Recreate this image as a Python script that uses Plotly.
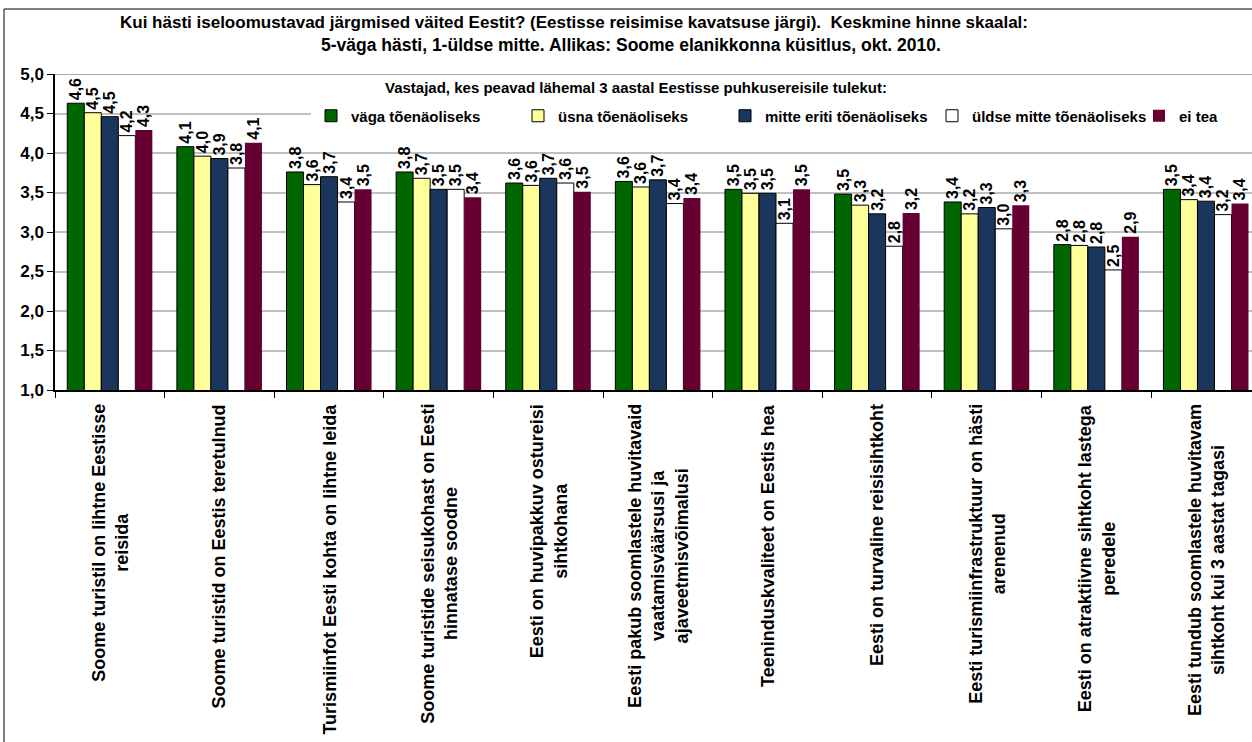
import plotly.graph_objects as go

categories = [
    "Soome turistil on lihtne Eestisse<br>reisida",
    "Soome turistid on Eestis teretulnud",
    "Turismiinfot Eesti kohta on lihtne leida",
    "Soome turistide seisukohast on Eesti<br>hinnatase soodne",
    "Eesti on huvipakkuv ostureisi<br>sihtkohana",
    "Eesti pakub soomlastele huvitavaid<br>vaatamisväärsusi ja<br>ajaveetmisvõimalusi",
    "Teeninduskvaliteet on Eestis hea",
    "Eesti on turvaline reisisihtkoht",
    "Eesti turismiinfrastruktuur on hästi<br>arenenud",
    "Eesti on atraktiivne sihtkoht lastega<br>peredele",
    "Eesti tundub soomlastele huvitavam<br>sihtkoht kui 3 aastat tagasi",
]

series_names = [
    "väga tõenäoliseks",
    "üsna tõenäoliseks",
    "mitte eriti tõenäoliseks",
    "üldse mitte tõenäoliseks",
    "ei tea",
]

vaga_toenaoliseks = [4.63, 4.08, 3.76, 3.76, 3.62, 3.64, 3.54, 3.48, 3.38, 2.84, 3.54]
usna_toenaoliseks = [4.51, 3.96, 3.60, 3.68, 3.59, 3.57, 3.49, 3.34, 3.23, 2.83, 3.41]
mitte_eriti = [4.46, 3.93, 3.70, 3.54, 3.68, 3.66, 3.49, 3.23, 3.31, 2.81, 3.39]
uldse_mitte = [4.22, 3.81, 3.38, 3.54, 3.62, 3.36, 3.11, 2.82, 3.04, 2.52, 3.22]
ei_tea = [4.29, 4.13, 3.54, 3.44, 3.51, 3.43, 3.54, 3.24, 3.34, 2.94, 3.36]

series_values = [vaga_toenaoliseks, usna_toenaoliseks, mitte_eriti, uldse_mitte, ei_tea]
colors = ["#006600", "#FFFF99", "#1B365D", "#FFFFFF", "#660033"]
line_widths = [1, 1, 1, 1, 0]

y_ticks = [1.0, 1.5, 2.0, 2.5, 3.0, 3.5, 4.0, 4.5, 5.0]

title_line1 = ("Kui hästi iseloomustavad järgmised väited Eestit? (Eestisse reisimise kavatsuse järgi).  "
               "Keskmine hinne skaalal:")
title_line2 = "5-väga hästi, 1-üldse mitte. Allikas: Soome elanikkonna küsitlus, okt. 2010."
legend_title = "Vastajad, kes peavad lähemal 3 aastal Eestisse puhkusereisile tulekut:"

FONT = "Liberation Sans, Arial, sans-serif"

fig = go.Figure()
for name, vals, col, lw in zip(series_names, series_values, colors, line_widths):
    fig.add_trace(go.Bar(
        name=name,
        x=categories,
        y=vals,
        marker=dict(color=col, line=dict(color="#000000", width=lw)),
        texttemplate="%{y:.1f}",
        textposition="outside",
        textangle=-90,
        constraintext="none",
        cliponaxis=False,
        textfont=dict(family=FONT, size=16, color="#000000", weight="bold"),
    ))

L, R, T, B = 55, 0, 74, 352
W, H = 1252, 742
plot_w = W - L - R
plot_h = H - T - B

def px_x(px):
    return (px - L) / plot_w

def px_y(py):
    return (H - B - py) / plot_h

annotations = []
for c in categories:
    annotations.append(dict(
        x=c, xref="x", y=0, yref="paper", yanchor="top", xanchor="center",
        yshift=-12, text=c, textangle=-90, showarrow=False, align="center",
        font=dict(family=FONT, size=18, color="#000000", weight="bold"),
    ))
annotations.append(dict(
    x=px_x(383), xref="paper", y=px_y(87), yref="paper", xanchor="left", yanchor="middle",
    text=legend_title, showarrow=False,
    font=dict(family=FONT, size=15, color="#000000", weight="bold"),
))
annotations.append(dict(
    x=px_x(574), xref="paper", y=px_y(22), yref="paper", xanchor="center", yanchor="middle",
    text=title_line1, showarrow=False,
    font=dict(family=FONT, size=17, color="#000000", weight="bold"),
))
annotations.append(dict(
    x=px_x(631), xref="paper", y=px_y(45), yref="paper", xanchor="center", yanchor="middle",
    text=title_line2, showarrow=False,
    font=dict(family=FONT, size=17.5, color="#000000", weight="bold"),
))

fig.update_layout(
    width=W, height=H,
    margin=dict(l=L, r=R, t=T, b=B, autoexpand=False),
    paper_bgcolor="#FFFFFF", plot_bgcolor="#FFFFFF",
    separators=", ",
    font=dict(family=FONT, size=15, color="#000000", weight="bold"),
    barmode="group", bargap=0.224, bargroupgap=0,
    showlegend=True,
    legend=dict(orientation="h", x=px_x(311), xanchor="left", y=px_y(116), yanchor="middle",
                bgcolor="rgba(255,255,255,1)", entrywidth=162, entrywidthmode="pixels",
                font=dict(family=FONT, size=15, color="#000000", weight="bold"),
                itemclick=False, itemdoubleclick=False, traceorder="normal"),
    xaxis=dict(type="category", range=[-0.5, 10.42], showticklabels=False,
               showline=True, linecolor="#000000", linewidth=2,
               ticks="outside", tickson="boundaries", ticklen=6, tickcolor="#000000", tickwidth=1,
               showgrid=False, zeroline=False, fixedrange=True),
    yaxis=dict(range=[1.0, 5.0], tickvals=y_ticks, tickformat=".1f",
               showline=True, linecolor="#000000", linewidth=1.5,
               ticks="outside", ticklen=6, tickcolor="#000000",
               showgrid=True, gridcolor="#C0C0C0", gridwidth=1.5, zeroline=False,
               tickfont=dict(family=FONT, size=17, color="#000000", weight="bold"),
               fixedrange=True),
    annotations=annotations,
    shapes=[
        dict(type="rect", xref="paper", yref="paper",
             x0=px_x(4), x1=px_x(1262), y0=px_y(760), y1=px_y(9),
             line=dict(color="#000000", width=1), fillcolor="rgba(0,0,0,0)", layer="above"),
        dict(type="line", xref="paper", yref="y", x0=0, x1=1, y0=5.0, y1=5.0,
             line=dict(color="#8C8C8C", width=1.5), layer="below"),
    ],
)

fig.write_html("out.html", config={"displayModeBar": False},
               post_script="document.body.style.margin='0px';document.body.style.overflow='hidden';")
